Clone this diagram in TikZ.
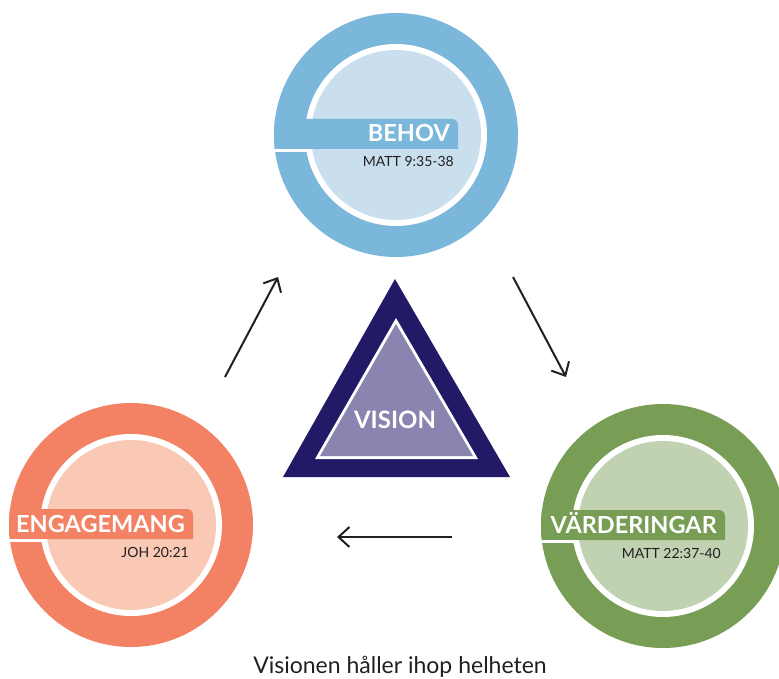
\documentclass[tikz,border=0pt]{standalone}
\usepackage{fontspec}
\setmainfont{Lato}
\usetikzlibrary{arrows.meta}
\definecolor{blueD}{HTML}{7AB7DA}
\definecolor{blueL}{HTML}{C9DFED}
\definecolor{oraD}{HTML}{F38265}
\definecolor{oraL}{HTML}{F9C9B5}
\definecolor{grnD}{HTML}{789D55}
\definecolor{grnL}{HTML}{C1D2B3}
\definecolor{triD}{HTML}{221A66}
\definecolor{triL}{HTML}{8A84B0}
\definecolor{txt}{HTML}{231F20}
\tikzset{
  bigword/.style={font=\bfseries\fontsize{23.5}{23.5}\selectfont, text=white, inner sep=0pt, anchor=base east},
  refword/.style={font=\fontsize{14}{14}\selectfont, text=txt, inner sep=0pt, anchor=base east},
  flowarrow/.style={line width=2pt, txt, -{Straight Barb[length=11pt,width=20pt]}},
}
% #1 name, #2 cx, #3 cy (pixels, downward), #4 dark, #5 light, #6 label, #7 reference
\newcommand\visring[7]{%
  \begin{scope}[shift={(#2,-#3)}]
    \node[circle, fill=#4, minimum size=244pt, inner sep=0pt] (#1) at (0,0) {};
    \fill[white] (0,0) circle (91pt);
    \fill[#5] (0,0) circle (85pt);
    \begin{scope}
      \clip (0,0) circle (122pt);
      \fill[#4] (-130,-14) -- (-130,16) -- (56,16) arc[start angle=90, end angle=0, radius=6pt] -- (62,-14) -- cycle;
      \fill[white] (-130,-14) rectangle (-84,-17);
    \end{scope}
    \node[bigword] (#1-label) at (54,-7) {#6};
    \node[refword] (#1-ref) at (58,-32) {#7};
  \end{scope}
}
\begin{document}
\begin{tikzpicture}[x=1pt, y=1pt]
  \useasboundingbox (0,0) rectangle (779,-679);
  \fill[white] (0,0) rectangle (779,-679);
  \visring{behov}{396}{135}{blueD}{blueL}{BEHOV}{MATT 9:35-38}
  \visring{engagemang}{131}{525}{oraD}{oraL}{ENGAGEMANG}{JOH 20:21}
  \visring{varderingar}{663}{526}{grnD}{grnL}{VÄRDERINGAR}{MATT 22:37-40}
  % triangle
  \fill[triD] (395,-279) -- (283,-477) -- (510,-477) -- cycle;
  \fill[white] (396,-318) -- (315,-459) -- (478,-459) -- cycle;
  \fill[triL] (396,-324) -- (320,-456) -- (473,-456) -- cycle;
  \node[bigword, font=\bfseries\fontsize{24}{24}\selectfont, anchor=base] (vision) at (395,-428) {VISION};
  % arrows
  \coordinate (a1s) at (225,-377);
  \coordinate (a1e) at (278,-277);
  \coordinate (a2s) at (513,-277);
  \coordinate (a2e) at (566,-377);
  \coordinate (a3s) at (452,-537);
  \coordinate (a3e) at (337,-537);
  \draw[flowarrow] (a1s) -- (a1e);
  \draw[flowarrow] (a2s) -- (a2e);
  \draw[flowarrow] (a3s) -- (a3e);
  \node[font=\fontsize{23}{23}\selectfont, text=txt, inner sep=0pt, anchor=base] (caption) at (400,-673) {Visionen håller ihop helheten};
\end{tikzpicture}
\end{document}
